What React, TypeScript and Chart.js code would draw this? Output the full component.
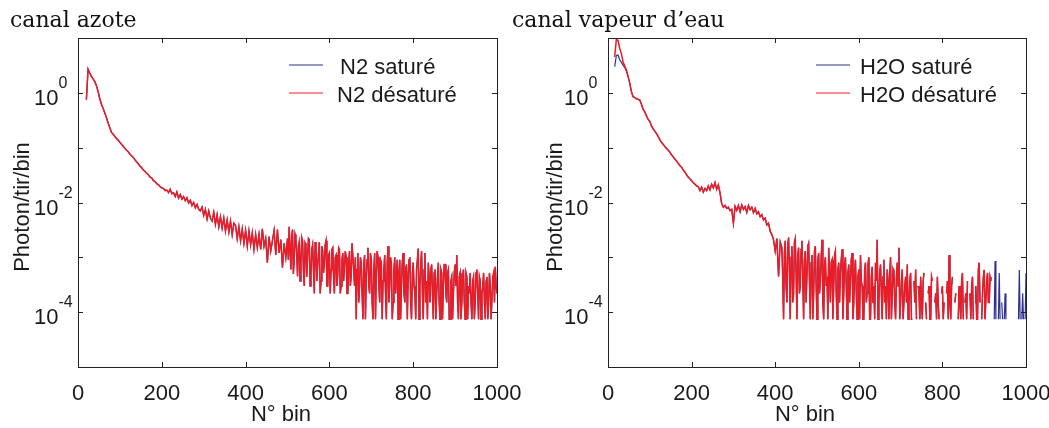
import React, { useEffect, useRef } from "react";
import { Chart, registerables } from "chart.js";

Chart.register(...registerables);

// ---------- data ----------
// canal azote (N2): bins 20..496 step 4
const n2Head = [
  0.75, 2.7, 2.3, 2.0, 1.8, 1.6, 1.35, 1.05, 0.78, 0.62, 0.52, 0.43, 0.35, 0.28, 0.23, 0.19, 0.175, 0.16, 0.147, 0.136, 0.125,
  0.115, 0.106, 0.097, 0.09, 0.084, 0.076, 0.071, 0.066, 0.06, 0.055, 0.051, 0.046, 0.043, 0.039,
  0.037, 0.034, 0.032, 0.029, 0.028, 0.025, 0.024, 0.022, 0.021, 0.0195, 0.0185, 0.018, 0.0165, 0.0168,
  0.0152, 0.0175, 0.0145, 0.015, 0.0128, 0.0155, 0.012, 0.014, 0.0115, 0.0128,
  0.0108, 0.0122, 0.0098, 0.011, 0.0088, 0.01, 0.008, 0.0092, 0.0075, 0.007,
  0.0082, 0.0058, 0.0075, 0.005, 0.007, 0.0052, 0.0046, 0.0066, 0.004, 0.006, 0.0036, 0.0055, 0.0034, 0.0052, 0.003, 0.0048, 0.0029, 0.0046, 0.0026, 0.0042,
  3.8e-3, 2.2e-3, 3.6e-3, 2.0e-3, 3.3e-3, 1.8e-3, 3.1e-3, 1.6e-3, 3.0e-3, 1.7e-3, 2.8e-3, 1.4e-3, 2.6e-3,
  1.5e-3, 2.6e-3, 1.4e-3, 3.3e-3, 1.6e-3, 2.2e-3, 8e-4, 2.4e-3, 1.3e-3, 2.0e-3, 3.1e-3, 1.1e-3, 3.2e-3, 1.2e-3, 2.1e-3, 6.5e-4, 1.8e-3, 1.0e-3,
];
// canal azote (N2): bins 500..1000 step 2
const n2Tail = [
  2.2e-3, 9e-4, 3.6e-3, 1.4e-3, 6e-4, 2.4e-3, 3.2e-3, 5e-4, 9e-4, 2.6e-3, 2.2e-3, 1.1e-3, 4.5e-4, 1.6e-3, 1.9e-3, 3.7e-4,
  8e-4, 2.3e-3, 2.0e-3, 6e-4, 3.0e-4, 1.8e-3, 1.6e-3, 4.4e-4, 1.0e-3, 2.2e-3, 2.1e-3, 3e-4, 5e-4, 1.4e-3, 1.7e-3, 6e-4,
  2.2e-4, 1.9e-3, 1.5e-3, 3.7e-4, 7e-4, 1.2e-3, 1.9e-3, 2.2e-4, 3.7e-4, 1.6e-3, 1.3e-3, 5.2e-4, 8e-4, 1.7e-3, 2.0e-3, 3e-4,
  3e-4, 1.1e-3, 1.2e-3, 2.2e-4, 6e-4, 1.4e-3, 1.5e-3, 4.4e-4, 2.2e-4, 1.0e-3, 1.1e-3, 3e-4, 5e-4, 1.5e-3, 1.4e-3, 2.2e-4,
  3e-4, 9e-4, 1.2e-3, 3.7e-4, 7e-4, 1.3e-3, 1.0e-3, 2.2e-4, 2.2e-4, 8e-4, 1.3e-3, 3e-4, 4.5e-4, 1.8e-3, 1.8e-3, 6e-4,
  3e-4, 1.0e-3,
  7.4e-5, 6e-4, 1.2e-3, 1.5e-4, 3e-4, 1.0e-3, 8e-4, 2.2e-4, 7.4e-5, 7.4e-4, 1.1e-3, 7.4e-5, 4.4e-4, 9e-4, 1.5e-3, 3e-4,
  2.2e-4, 1.2e-3, 9e-4, 1.5e-4, 7.4e-5, 6e-4, 1.2e-3, 7.4e-5, 5.2e-4, 1.3e-3, 1.0e-3, 3e-4, 1.5e-4, 9e-4, 8e-4, 7.4e-5,
  3.7e-4, 6e-4, 1.1e-3, 2.2e-4, 7.4e-5, 8e-4, 1.6e-3, 1.5e-4, 3e-4, 1.0e-3, 7.4e-4, 7.4e-5, 1.5e-4, 6e-4, 1.0e-3, 2.2e-4,
  4.4e-4, 9e-4,
  7.4e-5, 5.2e-4, 9e-4, 7.4e-5, 3e-4, 8e-4, 1.2e-3, 2.2e-4, 1.5e-4, 6e-4, 7.4e-4, 7.4e-5, 4.4e-4, 9e-4, 1.0e-3, 1.5e-4,
  7.4e-5, 5.2e-4, 8e-4, 3e-4, 2.2e-4, 7.4e-5, 6e-4, 9e-4, 1.45e-3, 7.4e-5, 3e-4, 7.4e-4, 1.3e-3, 2.2e-4, 7.4e-5, 6e-4,
  1.2e-3, 1.5e-4, 3.7e-4, 7.4e-5, 8e-4, 4.4e-4, 1.5e-4, 6e-4,
  7.4e-4, 2.2e-4, 7.4e-5, 5.2e-4, 6e-4, 7.4e-5, 2.2e-4, 4.4e-4, 8e-4, 1.5e-4, 7.4e-5, 6e-4, 5.2e-4, 7.4e-5, 3e-4, 7.4e-4,
  7.4e-4, 2.2e-4, 1.5e-4, 5.2e-4, 6e-4, 7.4e-5, 7.4e-5, 3.7e-4, 4.4e-4, 7.4e-5, 2.2e-4, 5.2e-4, 7.4e-4, 3e-4, 1.1e-3, 1.5e-4,
  7.4e-5, 4.4e-4, 5.2e-4, 7.4e-5,
  1.5e-4, 4.4e-4, 6e-4, 1.5e-4, 7.4e-5, 5.2e-4, 4.4e-4, 7.4e-5, 3e-4, 2.2e-4, 5.2e-4, 1.5e-4, 7.4e-5, 3.7e-4, 4.4e-4, 7.4e-5,
  1.5e-4, 5.2e-4, 6e-4, 2.2e-4, 7.4e-5, 4.4e-4, 3.7e-4, 7.4e-5, 2.2e-4, 3e-4, 5.2e-4, 1.5e-4, 7.4e-5, 3.7e-4, 4.4e-4, 7.4e-5,
  1.5e-4, 5.2e-4, 3e-4, 7.4e-5, 7.4e-5, 4.4e-4, 5.2e-4, 1.5e-4, 6.7e-4, 3e-4, 2.2e-4,
];

// canal vapeur d'eau (H2O): bins 16..44 step 4 (the two series differ here)
const h2oBlueHead = [3.0, 4.8, 4.9, 4.0, 3.6, 3.2, 2.9, 2.5];
const h2oRedHead = [4.5, 9.5, 9.0, 6.5, 5.2, 3.7, 3.1, 2.6];
// bins 48..412 step 4 (both series)
const h2oMid = [
  2.0, 1.5, 1.05, 0.85, 0.82, 0.78, 0.76, 0.74, 0.62, 0.5, 0.45, 0.38, 0.33, 0.3, 0.25, 0.22, 0.2, 0.18, 0.16, 0.14,
  0.125, 0.115, 0.105, 0.097, 0.09, 0.083, 0.074, 0.068, 0.062, 0.057, 0.052,
  0.047, 0.044, 0.039, 0.036, 0.032, 0.029, 0.027, 0.025, 0.023, 0.0215, 0.02, 0.0195,
  0.0165, 0.019, 0.0155, 0.018, 0.0165, 0.02, 0.017, 0.0215, 0.0185, 0.023, 0.0175, 0.021, 0.015,
  0.0095, 0.0082, 0.0088, 0.0078, 0.0082, 0.0071, 0.0075,
  0.0042, 0.0085, 0.0072, 0.0088, 0.0068, 0.009, 0.0075, 0.0084, 0.0066, 0.0088, 0.0074, 0.0082, 0.0065, 0.0078, 0.0062, 0.0068,
  0.0055, 0.006, 0.0048, 0.0052, 0.0039, 0.0042, 0.003, 0.0026,
  0.0021, 0.0013, 0.0022, 4.5e-4, 0.0019,
];
// bins 416..916 step 2 (both series; null = empty bin)
const h2oTail = [
  1.5e-3, 4.4e-4, 7.4e-5, 1.2e-3, 2.0e-3, 3e-4, 1.5e-4, 1.7e-3, 2.3e-3, 6e-4, 7.4e-5, 1.0e-3, 1.6e-3, 1.5e-4, 2.2e-4, 1.9e-3,
  2.2e-3, 5.2e-4, 7.4e-5, 1.1e-3, 1.5e-3, 2.2e-4, 3e-4, 1.4e-3, 2.0e-3, 4.4e-4, 7.4e-5, 9e-4, 1.3e-3, 1.5e-4, 1.5e-4, 1.6e-3,
  1.8e-3, 3.7e-4, 7.4e-5, 8e-4, 1.1e-3, 7.4e-5, 2.2e-4, 1.3e-3, 1.6e-3, 3e-4, 7.4e-5, 9e-4, 1.2e-3, 2.2e-4, 3.7e-4, 1.0e-3,
  2.1e-3, 1.5e-4, 7.4e-5, 7.4e-4, 1.0e-3, 3e-4, 4.4e-4, 7.4e-5, 1.5e-3, 5.2e-4, 1.5e-4, 8e-4, 9e-4, 7.4e-5, 3e-4, 1.1e-3,
  1.3e-3, 2.2e-4, 7.4e-5, 6e-4, 8e-4, 1.5e-4, 5.2e-4, 9e-4, 1.4e-3, 7.4e-5, 2.2e-4, 7.4e-4, 1.0e-3, 3e-4, 7.4e-5, 5.2e-4,
  7.4e-4, 1.5e-4, 3.7e-4, 9e-4, 1.2e-3, 7.4e-5, 1.5e-4, 6e-4, 9e-4, 2.2e-4, 7.4e-5, 4.4e-4, 6e-4, 7.4e-5, 1.1e-3, 3.7e-4,
  3e-4, 7.4e-5, 7.4e-5, 6e-4, 8e-4, 1.5e-4, 2.2e-4, 7.4e-4, 1.0e-3, 7.4e-5, 7.4e-5, 4.4e-4, 6.7e-4, 1.5e-4, 3e-4, 7.4e-5,
  8e-4, 3.7e-4, 2.1e-3, 7.4e-5, 1.5e-4, 5.2e-4, 7.4e-4, 2.2e-4, 7.4e-5, 4.4e-4, 9e-4, 1.5e-4, 3e-4, 7.4e-5, 6e-4, 3.7e-4,
  7.4e-5, 5.2e-4, 1.0e-3, 7.4e-5, 2.2e-4, 6e-4, 5.2e-4, 1.5e-4, 7.4e-5, 4.4e-4, 8e-4, 3e-4, 1.5e-3, 7.4e-5, 1.5e-4, 3.7e-4,
  6e-4, 7.4e-5, 7.4e-5, 3e-4, 4.4e-4, 1.5e-4, 7.4e-4, 7.4e-5, 1.5e-4, 3.7e-4, 5.2e-4, 7.4e-5, 7.4e-5, null, 3.7e-4, 1.5e-4,
  6e-4, 7.4e-5, null, 3e-4, 2.2e-4, 7.4e-5, 4.4e-4, 1.5e-4, 7.4e-5, 3.7e-4, 5.2e-4, null, 1.5e-4, 7.4e-5, null, 2.2e-4,
  3e-4, 7.4e-5, 7.4e-5, 4.4e-4, 3.7e-4, null, null, 1.5e-4, 2.2e-4, 7.4e-5, 4.4e-4, 1.5e-4, 7.4e-5, null, null, 2.2e-4,
  3e-4, 7.4e-5, 1.5e-4, null, null, 2.2e-4, 3.7e-4, 7.4e-5, 1.1e-3, 1.5e-4, 7.4e-5, 3e-4, 4.4e-4, null, null, 1.5e-4,
  2.2e-4, null, null, 7.4e-5, 3e-4, 1.5e-4, 7.4e-5, 3.7e-4, 5.2e-4, 7.4e-5, null, 1.5e-4, 2.2e-4, 7.4e-5, 3.7e-4, null,
  null, 2.2e-4, 7.4e-5, 3e-4, 4.4e-4, 7.4e-5, null, 1.5e-4, 3e-4, 7.4e-5, 7.4e-5, 6e-4, 8e-4, 1.5e-4, null, 7.4e-5,
  2.2e-4, 4.4e-4, 5.9e-4, 7.4e-5, 7.4e-5, 3.7e-4, 5.2e-4, 1.5e-4, 1.5e-4, 4.4e-4, 3.7e-4,
];
// bins 918..1000 step 2 (only the saturated series)
const h2oBlueTail = [
  null, 7.4e-5, null, 7.4e-5, 8.6e-4, 7.4e-5, null, null, 7.4e-5, 5.2e-4, 7.4e-5, null, 1.5e-4, 7.4e-5, null, 7.4e-5,
  2.2e-4, 7.4e-5, null, null, null, null, null, null, null, null, null, null, null, null, null, null,
  7.4e-5, 5.9e-4, 7.4e-5, null, 7.4e-5, 2.2e-4, 7.4e-5, null, 7.4e-5, 5.2e-4,
];

const xTicks = [0, 200, 400, 600, 800, 1000];
const yTickMarks = [10, 1, 0.1, 0.01, 0.001, 0.0001, 0.00001];
const yLabelTicks = [1, 0.01, 0.0001];
const yLabelExps = ["0", "-2", "-4"];

const RED = "#ec1c24";
const BLUE = "#2e3192";
const SANS = '"Liberation Sans", Arial, Helvetica, sans-serif';

type Pt = { x: number; y: number | null };
const seg = (start: number, step: number, values: (number | null)[]): Pt[] =>
  values.map((v, i) => ({ x: start + step * i, y: v }));

type PanelCfg = {
  left: number;
  width: number;
  padLeft: number;
  padRight: number;
  title: string;
  titleX: number;
  yTitleX: number;
  xTitleX: number;
  legend: { label: string; color: string; textX: number }[];
  legendLine: [number, number];
  red: Pt[];
  blue: Pt[];
};

const n2Points = [...seg(20, 4, n2Head), ...seg(500, 2, n2Tail)];

const panels: PanelCfg[] = [
  {
    left: 0,
    width: 530,
    padLeft: 78,
    padRight: 33,
    title: "canal azote",
    titleX: 10,
    yTitleX: 22.5,
    xTitleX: 281,
    legend: [
      { label: "N2 saturé", color: BLUE, textX: 340 },
      { label: "N2 désaturé", color: RED, textX: 337 },
    ],
    legendLine: [289, 323],
    red: n2Points,
    blue: n2Points,
  },
  {
    left: 505,
    width: 544,
    padLeft: 103,
    padRight: 23,
    title: "canal vapeur d’eau",
    titleX: 7,
    yTitleX: 51,
    xTitleX: 300,
    legend: [
      { label: "H2O saturé", color: BLUE, textX: 355 },
      { label: "H2O désaturé", color: RED, textX: 355 },
    ],
    legendLine: [311, 345],
    red: [...seg(16, 4, h2oRedHead), ...seg(48, 4, h2oMid), ...seg(416, 2, h2oTail)],
    blue: [...seg(16, 4, h2oBlueHead), ...seg(48, 4, h2oMid), ...seg(416, 2, h2oTail), ...seg(918, 2, h2oBlueTail)],
  },
];

function Panel({ cfg }: { cfg: PanelCfg }) {
  const ref = useRef<HTMLCanvasElement | null>(null);
  useEffect(() => {
    if (!ref.current) return;
    const decor = {
      id: "decor",
      afterDraw(chart: any) {
        const { ctx, chartArea: a } = chart;
        const xs = chart.scales.x;
        const ys = chart.scales.y;
        ctx.save();
        ctx.strokeStyle = "#222";
        ctx.lineWidth = 1;
        const line = (x1: number, y1: number, x2: number, y2: number) => {
          ctx.beginPath();
          ctx.moveTo(x1, y1);
          ctx.lineTo(x2, y2);
          ctx.stroke();
        };
        ctx.strokeRect(a.left + 0.5, a.top + 0.5, a.right - a.left, a.bottom - a.top);
        for (const t of xTicks) {
          const px = Math.round(xs.getPixelForValue(t)) + 0.5;
          line(px, a.bottom, px, a.bottom - 5);
          line(px, a.top, px, a.top + 5);
        }
        for (const t of yTickMarks) {
          const py = Math.round(ys.getPixelForValue(t)) + 0.5;
          line(a.left, py, a.left + 5, py);
          line(a.right, py, a.right - 5, py);
        }
        ctx.fillStyle = "#1a1a1a";
        ctx.font = `22px ${SANS}`;
        ctx.textAlign = "center";
        ctx.textBaseline = "alphabetic";
        for (const t of xTicks) ctx.fillText(String(t), xs.getPixelForValue(t), 400);
        yLabelTicks.forEach((t, i) => {
          const py = ys.getPixelForValue(t);
          ctx.font = `22px ${SANS}`;
          ctx.textAlign = "right";
          ctx.fillText("10", a.left - 19.5, py + 12);
          ctx.font = `16px ${SANS}`;
          ctx.textAlign = "left";
          ctx.fillText(yLabelExps[i], a.left - 19.5, py - 5);
        });
        ctx.font = `22px ${SANS}`;
        ctx.textAlign = "center";
        ctx.fillText("N° bin", cfg.xTitleX, 421);
        ctx.save();
        ctx.translate(cfg.yTitleX, 207);
        ctx.rotate(-Math.PI / 2);
        ctx.textBaseline = "middle";
        ctx.fillText("Photon/tir/bin", 0, 0);
        ctx.restore();
        // legend
        const rows = [65, 93];
        cfg.legend.forEach((item, i) => {
          ctx.strokeStyle = item.color;
          ctx.lineWidth = 1;
          line(cfg.legendLine[0], rows[i], cfg.legendLine[1], rows[i]);
          ctx.fillStyle = "#1a1a1a";
          ctx.textAlign = "left";
          ctx.textBaseline = "alphabetic";
          ctx.font = `22px ${SANS}`;
          ctx.fillText(item.label, item.textX, rows[i] + 9);
        });
        // panel title
        ctx.font = '22px "DejaVu Serif", serif';
        ctx.textAlign = "left";
        ctx.fillStyle = "#111";
        ctx.fillText(cfg.title, cfg.titleX, 27);
        ctx.restore();
      },
    };
    const chart = new Chart(ref.current, {
      type: "line",
      data: {
        datasets: [
          {
            data: cfg.red as any,
            borderColor: RED,
            borderWidth: 1.5,
            pointRadius: 0,
            tension: 0,
            fill: false,
            spanGaps: false,
          },
          {
            data: cfg.blue as any,
            borderColor: BLUE,
            borderWidth: 1.2,
            pointRadius: 0,
            tension: 0,
            fill: false,
            spanGaps: false,
          },
        ],
      },
      options: {
        animation: false,
        responsive: false,
        maintainAspectRatio: false,
        events: [],
        layout: { padding: { left: cfg.padLeft, right: cfg.padRight, top: 38, bottom: 61 } },
        plugins: { legend: { display: false }, tooltip: { enabled: false }, title: { display: false } },
        scales: {
          x: { type: "linear", min: 0, max: 1000, display: false },
          y: { type: "logarithmic", min: 1e-5, max: 10, display: false },
        },
      },
      plugins: [decor],
    });
    return () => chart.destroy();
  }, [cfg]);
  return (
    <canvas
      ref={ref}
      width={cfg.width}
      height={428}
      style={{ position: "absolute", left: cfg.left, top: 0, width: cfg.width, height: 428, display: "block" }}
    />
  );
}

export default function App() {
  return (
    <div style={{ position: "absolute", left: 0, top: 0, width: 1049, height: 428, background: "#fff", overflow: "hidden" }}>
      {panels.map((p, i) => (
        <Panel key={i} cfg={p} />
      ))}
    </div>
  );
}
